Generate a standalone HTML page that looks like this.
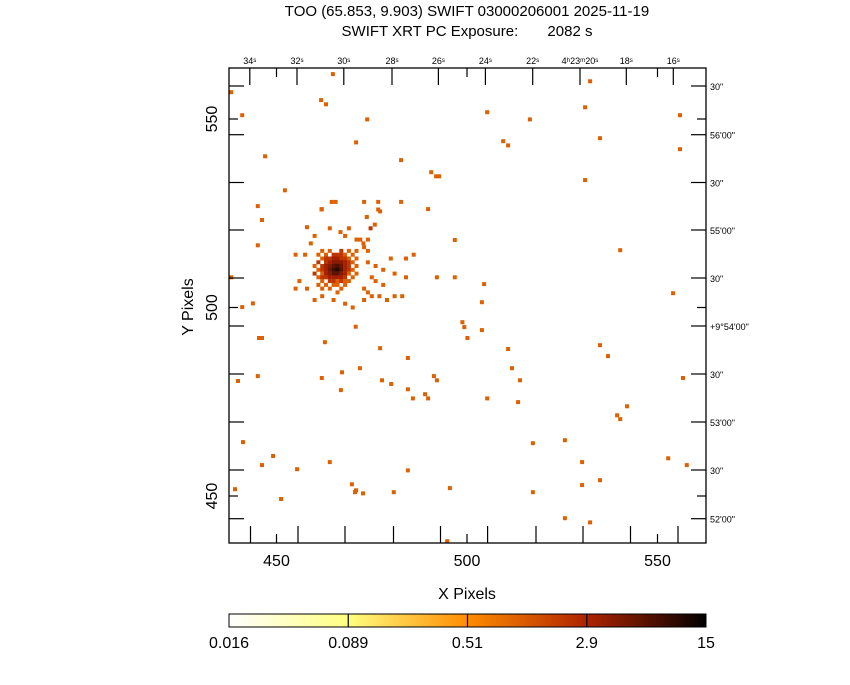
<!DOCTYPE html>
<html><head><meta charset="utf-8"><style>
body{margin:0;background:#fff;}
svg text{font-family:"Liberation Sans",sans-serif;fill:#000;white-space:pre;}
</style></head><body>
<svg id="chart" width="850" height="680" xmlns="http://www.w3.org/2000/svg">
<defs>
<linearGradient id="cbar" x1="0" x2="1" y1="0" y2="0">
<stop offset="0" stop-color="#ffffff"/><stop offset="0.25" stop-color="#ffff80"/><stop offset="0.5" stop-color="#ff8c00"/><stop offset="0.75" stop-color="#af2300"/><stop offset="1" stop-color="#000000"/>
</linearGradient>
</defs>
<text x="467" y="16" font-size="15" text-anchor="middle">TOO (65.853, 9.903) SWIFT 03000206001 2025-11-19</text>
<text x="467" y="36" font-size="15" text-anchor="middle" xml:space="preserve">SWIFT XRT PC Exposure:       2082 s</text>
<g id="pix"></g>
<g id="axes"></g>
<rect x="229" y="68" width="477" height="475" fill="none" stroke="#000" stroke-width="1.3"/>
<text x="467" y="599" font-size="16" text-anchor="middle">X Pixels</text>
<text x="193" y="307" font-size="16" text-anchor="middle" transform="rotate(-90 193 307)">Y Pixels</text>
<rect x="229" y="614" width="477" height="13" fill="url(#cbar)" stroke="#000" stroke-width="1"/>
<g id="cb"></g>
</svg>
<script>
// image pixel events: [xPixel, yPixel, counts]
const coreEvents = [
[462,515,1],[464,515,1],[467,515,2],[469,515,1],[471,515,1],
[461,514,1],[463,514,1],[465,514,2],[466,514,2],[467,514,2],[468,514,1],[470,514,1],
[462,513,1],[463,513,2],[464,513,2],[465,513,3],[466,513,3],[467,513,2],[468,513,2],[469,513,1],[471,513,1],
[461,512,2],[463,512,2],[464,512,3],[465,512,4],[466,512,4],[467,512,4],[468,512,3],[469,512,2],[470,512,1],
[460,511,1],[462,511,2],[463,511,3],[464,511,4],[465,511,6],[466,511,7],[467,511,5],[468,511,3],[469,511,2],[471,511,1],
[461,510,1],[462,510,2],[463,510,3],[464,510,5],[465,510,8],[466,510,10],[467,510,6],[468,510,3],[469,510,2],[470,510,1],
[460,509,2],[462,509,1],[463,509,3],[464,509,4],[465,509,6],[466,509,6],[467,509,4],[468,509,3],[469,509,1],[471,509,1],
[461,508,1],[462,508,2],[463,508,2],[464,508,3],[465,508,3],[466,508,3],[467,508,3],[468,508,2],[470,508,1],
[462,507,1],[464,507,2],[465,507,2],[466,507,1],[467,507,2],[468,507,1],[469,507,1],
[461,506,1],[463,506,1],[465,506,1],[466,506,1],[468,506,1],
[462,505,1],[464,505,1],[467,505,1],[466,504,1]
];
const haloEvents = [
[464.5,528,1],[465.5,528,1],[473,528,1],[476.7,528,1],[482.7,528,1],[461.8,526,1],[476.7,526,1],[473.7,524,1],[475.8,522,1],[474.7,521,2],[469,521,1],[464,521,1],[466.8,520,1],[460,519,1],[468,519,1],[471,518,1],[472,518,1],[474,518,1],[459,517,1],[472.8,517,1],[473,516,1],[474,515,1],[455,514,1],[457.5,514,1],[486,514,1],[480,513,1],[484,513,1],[474,512,1],[476,511,1],[478,510,1],[481,509,1],[484,508,1],[475,508,1],[476,507,1],[478,506,1],[473,505,1],[474,504,1],[477,503,1],[479,502,1],[481,503,1],[483,503,1],[475,503,1],[470,500,1],[473,502,1],[468,501,1],[465,502,1],[462,503,1],[460,502,1],[458,505,1],[456,507,1],[455,505,1],[470.8,494.9,1]
];
const fieldEvents = [
[464.8,561.9,1],[532.3,560,1],[438.1,557.1,1],[441,551,1],[461.7,555,1],[463,553.9,1],[505.3,551.8,1],[531,553.1,1],[473.8,549.9,1],[516.5,549.9,1],[555.9,551,1],[534.9,544.9,1],[470.9,543.8,1],[509.5,544.1,1],[510.8,543,1],[447,540.1,1],[482.7,539.1,1],[555.9,542,1],[490.6,535.9,1],[491.9,534.8,1],[492.7,534.8,1],[531,533.8,1],[452.2,531.1,1],[445.1,526.9,1],[461.9,526.1,1],[477.2,525.5,1],[489.8,526.1,1],[446.2,523.2,1],[458,521.3,1],[445.1,516.5,1],[496.8,517.9,1],[540.2,515.2,1],[438.1,508,1],[504.5,506.2,1],[492.1,508,1],[496.8,508,1],[554.1,503.8,1],[503.9,501.4,1],[441,500.1,1],[443.8,501.1,1],[498.8,496.1,1],[499.3,494.8,1],[503.9,494,1],[500.1,491.9,1],[445.4,491.9,1],[446.2,491.9,1],[534.9,490,1],[462.7,490.8,1],[477.2,489.2,1],[510.8,489,1],[537,487.1,1],[484.5,486.6,1],[471.9,483.9,1],[511.8,483.9,1],[439.9,480.5,1],[445.1,481.8,1],[461.9,481.3,1],[467.2,482.8,1],[491.3,481.8,1],[492.1,480.7,1],[477.7,480.7,1],[480.1,479.7,1],[513.9,480.7,1],[556.7,481.3,1],[466.9,478.1,1],[484.5,478.3,1],[489,477,1],[489.8,475.9,1],[485.8,475.9,1],[505.3,475.9,1],[513.4,474.9,1],[542,473.8,1],[539.4,471.4,1],[540.2,470.4,1],[525.7,464.8,1],[441.2,464.3,1],[517.3,464,1],[449.1,460.6,1],[446.2,458.2,1],[455.4,457.1,1],[464,459,1],[484.5,456.8,1],[530.2,459,1],[552.8,460,1],[557.7,458.2,1],[534.9,454.2,1],[439.1,451.8,1],[469.8,453.1,1],[470.9,451.5,1],[472.7,450.7,1],[470.6,451,1],[480.8,451,1],[495.5,452.1,1],[517.3,451,1],[530.2,452.9,1],[451.2,449.2,1],[525.7,444.1,1],[532.3,443,1],[494.8,438,1]
];
const xTickValues = [450, 500, 550];
const yTickValues = [450, 500, 550];
const raLabels = ["34\u02e2","32\u02e2","30\u02e2","28\u02e2","26\u02e2","24\u02e2","22\u02e2","4\u02b023\u1d5020\u02e2","18\u02e2","16\u02e2"];
const decLabels = ["30\"","56'00\"","30\"","55'00\"","30\"","+9\u00b054'00\"","30\"","53'00\"","30\"","52'00\""];
const cbLabels = ["0.016","0.089","0.51","2.9","15"];
const cbMin = 0.016, cbMax = 15;

const NS = "http://www.w3.org/2000/svg";
const X0 = 229, X1 = 706, Y0 = 68, Y1 = 543;
const sx = v => 276.5 + (v - 450) * 3.81;
const sy = v => 496 - (v - 450) * 3.77;
function mk(tag, attrs, parent){const e=document.createElementNS(NS,tag);for(const k in attrs)e.setAttribute(k,attrs[k]);parent.appendChild(e);return e;}
const stops=[[0,[255,255,255]],[0.25,[255,255,128]],[0.5,[255,140,0]],[0.75,[175,35,0]],[1,[0,0,0]]];
function cmap(c){let t=(Math.log(c)-Math.log(cbMin))/(Math.log(cbMax)-Math.log(cbMin));t=Math.max(0,Math.min(1,t));
 for(let i=1;i<stops.length;i++){if(t<=stops[i][0]){const a=stops[i-1],b=stops[i],f=(t-a[0])/(b[0]-a[0]);
 return "rgb("+a[1].map((v,j)=>Math.round(v+(b[1][j]-v)*f)).join(",")+")";}}return "#000";}
const pix=document.getElementById('pix');
[fieldEvents,haloEvents,coreEvents].forEach(list=>list.forEach(p=>{
 const r=mk('rect',{x:(sx(p[0])-2).toFixed(1),y:(sy(p[1])-2).toFixed(1),width:4,height:4,fill:cmap(p[2])},pix);
 
 
}));
const ax=document.getElementById('axes');
const line=(a,b,c,d)=>mk('line',{x1:a,y1:b,x2:c,y2:d,stroke:'#000','stroke-width':1.2},ax);
xTickValues.forEach(v=>{const x=sx(v);line(x,Y1,x,Y1-9);line(x,Y0,x,Y0+9);
 const t=mk('text',{x:x,y:566,'font-size':16,'text-anchor':'middle'},ax);t.textContent=v;
 
 });
yTickValues.forEach(v=>{const y=sy(v);line(X0,y,X0+9,y);line(X1,y,X1-9,y);
 const t=mk('text',{x:217,y:y,'font-size':16,'text-anchor':'middle',transform:`rotate(-90 217 ${y})`},ax);t.textContent=v;
 
 });
const raTop=[249.8,297,343.8,392,438.4,485.4,532.7,580,626.3,673.3];
const raBot=[250.5,298,345,393.5,440.5,487.6,536,583,630.5,678];
raLabels.forEach((l,i)=>{line(raTop[i],Y0,raTop[i],Y0+17);line(raBot[i],Y1,raBot[i],Y1-17);
 const t=mk('text',{x:raTop[i],y:64,'font-size':9,'text-anchor':'middle'},ax);t.textContent=l;
 
 });
const decY=[86,134.7,182.5,230,278,326,374,422,470,518.7];
decLabels.forEach((l,i)=>{line(X0,decY[i],X0+15,decY[i]);line(X1,decY[i],X1-15,decY[i]);
 const t=mk('text',{x:710,y:decY[i]+4,'font-size':9},ax);t.textContent=l;
 
 });
const cb=document.getElementById('cb');
cbLabels.forEach((l,i)=>{const x=229+i*477/4;
 if(i>0&&i<4)mk('line',{x1:x,y1:614,x2:x,y2:627,stroke:'#000','stroke-width':1.2},cb);
 const t=mk('text',{x:x,y:648,'font-size':16,'text-anchor':'middle'},cb);t.textContent=l;
 
 });
</script>
</body></html>
